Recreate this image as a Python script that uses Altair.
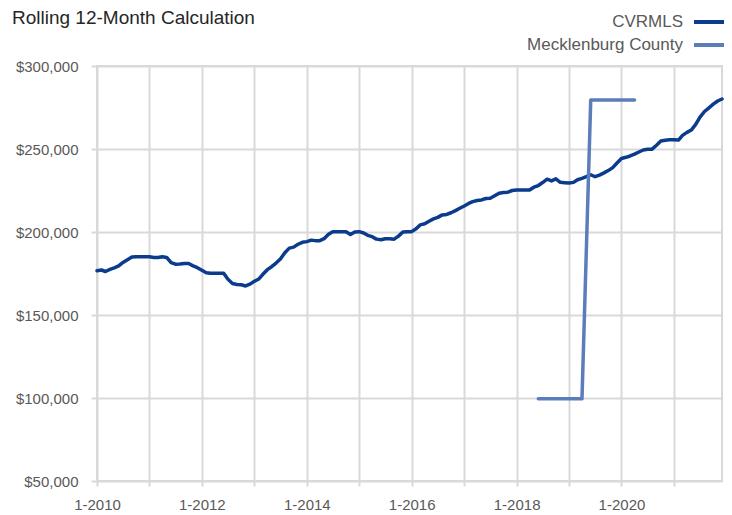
import altair as alt
import pandas as pd

title_text = "Rolling 12-Month Calculation"
series_names = ["CVRMLS", "Mecklenburg County"]
series_colors = ["#0b3b8d", "#5b7dbb"]

# monthly, Jan 2010 .. Dec 2021 (thousands of dollars)
months = pd.date_range("2010-01-01", periods=144, freq="MS")
cvrmls_k = [
    176.7, 177.1, 176.2, 177.5, 178.4, 179.6, 181.7, 183.3, 184.9, 185.1, 185.1, 185.1,  # 2010
    185.1, 184.7, 184.6, 185.1, 184.7, 181.5, 180.6, 180.7, 181.0, 181.0, 179.6, 178.5,  # 2011
    177.0, 175.5, 175.1, 175.1, 175.1, 175.1, 171.5, 169.0, 168.4, 168.2, 167.5, 168.6,  # 2012
    170.3, 171.7, 174.5, 177.3, 179.1, 181.3, 183.7, 187.5, 190.3, 190.9, 192.6, 193.8,  # 2013
    194.2, 195.1, 194.8, 194.8, 196.0, 198.6, 200.2, 200.2, 200.2, 200.2, 198.5, 200.0,  # 2014
    200.2, 199.4, 198.0, 197.2, 195.7, 195.3, 195.9, 195.9, 195.7, 197.5, 200.0, 200.2,  # 2015
    200.2, 202.0, 204.3, 205.0, 206.5, 207.9, 208.8, 210.3, 210.6, 211.6, 212.9, 214.3,  # 2016
    215.7, 217.2, 218.3, 219.0, 219.3, 220.2, 220.3, 221.8, 223.4, 223.8, 224.0, 225.0,  # 2017
    225.3, 225.3, 225.3, 225.3, 227.0, 228.0, 229.8, 231.8, 230.8, 232.0, 229.9, 229.7,  # 2018
    229.5, 229.9, 231.5, 232.3, 233.3, 234.5, 233.3, 234.3, 235.6, 237.0, 238.8, 241.6,  # 2019
    244.3, 245.0, 245.8, 246.9, 248.2, 249.4, 249.8, 249.9, 252.3, 254.8, 255.3, 255.6,  # 2020
    255.6, 255.4, 258.2, 260.0, 261.4, 264.8, 269.2, 272.6, 274.8, 277.0, 278.9, 280.1,  # 2021
]

meck_months = [
    "2018-06-01", "2018-07-01", "2018-08-01", "2018-09-01", "2018-10-01", "2018-11-01",
    "2018-12-01", "2019-01-01", "2019-02-01", "2019-03-01", "2019-04-01",
    "2019-06-01", "2019-07-01", "2019-08-01", "2019-09-01", "2019-10-01", "2019-11-01",
    "2019-12-01", "2020-01-01", "2020-02-01", "2020-03-01", "2020-04-01",
]
meck_k = [
    99.5, 99.5, 99.5, 99.5, 99.5, 99.5,
    99.5, 99.5, 99.5, 99.5, 99.5,
    279.5, 279.5, 279.5, 279.5, 279.5, 279.5,
    279.5, 279.5, 279.5, 279.5, 279.5,
]

y_ticks = [50000, 100000, 150000, 200000, 250000, 300000]
year_ticks = list(range(2010, 2022))

df_c = pd.DataFrame({"month": months, "value": [v * 1000 for v in cvrmls_k], "series": series_names[0]})
df_m = pd.DataFrame({"month": pd.to_datetime(meck_months), "value": [v * 1000 for v in meck_k], "series": series_names[1]})
df = pd.concat([df_c, df_m], ignore_index=True)

FONT = "Liberation Sans"

x_enc = alt.X(
    "month:T",
    scale=alt.Scale(domain=[alt.DateTime(year=2010, month=1, date=1),
                            alt.DateTime(year=2021, month=12, date=1)]),
    axis=alt.Axis(
        title=None,
        values=[alt.DateTime(year=y, month=1, date=1) for y in year_ticks],
        labelExpr="year(datum.value) % 2 == 0 ? '1-' + year(datum.value) : ''",
        tickSize=5,
        labelPadding=11,
        labelFlush=False,
        labelOverlap=False,
    ),
)
y_enc = alt.Y(
    "value:Q",
    scale=alt.Scale(domain=[50000, 300000], nice=False, zero=False),
    axis=alt.Axis(title=None, values=y_ticks, format="$,.0f", tickSize=6, labelPadding=13),
)
color_enc = alt.Color(
    "series:N",
    scale=alt.Scale(domain=series_names, range=series_colors),
    legend=alt.Legend(
        title=None, orient="none", legendX=602.5, legendY=-54,
        symbolType="M-2,0H2", symbolSize=240, symbolStrokeWidth=4,
        labelAlign="right", labelOffset={"expr": "-36.5"}, labelFontSize=17, labelColor="#595959",
        labelFont=FONT, labelLimit=400, rowPadding=5, padding=0,
    ),
)

base = alt.Chart(df)
line_c = base.transform_filter(alt.datum.series == series_names[0]).mark_line(
    strokeWidth=3.5, strokeJoin="round", strokeCap="round"
).encode(x=x_enc, y=y_enc, color=color_enc)
line_m = base.transform_filter(alt.datum.series == series_names[1]).mark_line(
    strokeWidth=3.5, strokeJoin="round", strokeCap="round"
).encode(x=x_enc, y=y_enc, color=color_enc)

title_mark = alt.Chart(pd.DataFrame({"t": [title_text]})).mark_text(
    align="left", baseline="alphabetic", fontSize=19, color="#262626", font=FONT
).encode(x=alt.value(-85), y=alt.value(-42.5), text="t:N")

chart = alt.layer(line_c, line_m, title_mark).properties(
    width=625, height=415,
    autosize=alt.AutoSizeParams(type="none"),
    padding={"left": 89, "top": 58, "right": 2, "bottom": 34},
).configure_view(
    stroke="#d9d9d9", strokeWidth=2
).configure_axis(
    gridColor="#d9d9d9", gridWidth=2, tickColor="#d9d9d9", tickWidth=2,
    domain=False, labelColor="#595959", labelFontSize=15, labelFont=FONT,
)

chart.save("out.html", embed_options={"renderer": "svg", "actions": False})
